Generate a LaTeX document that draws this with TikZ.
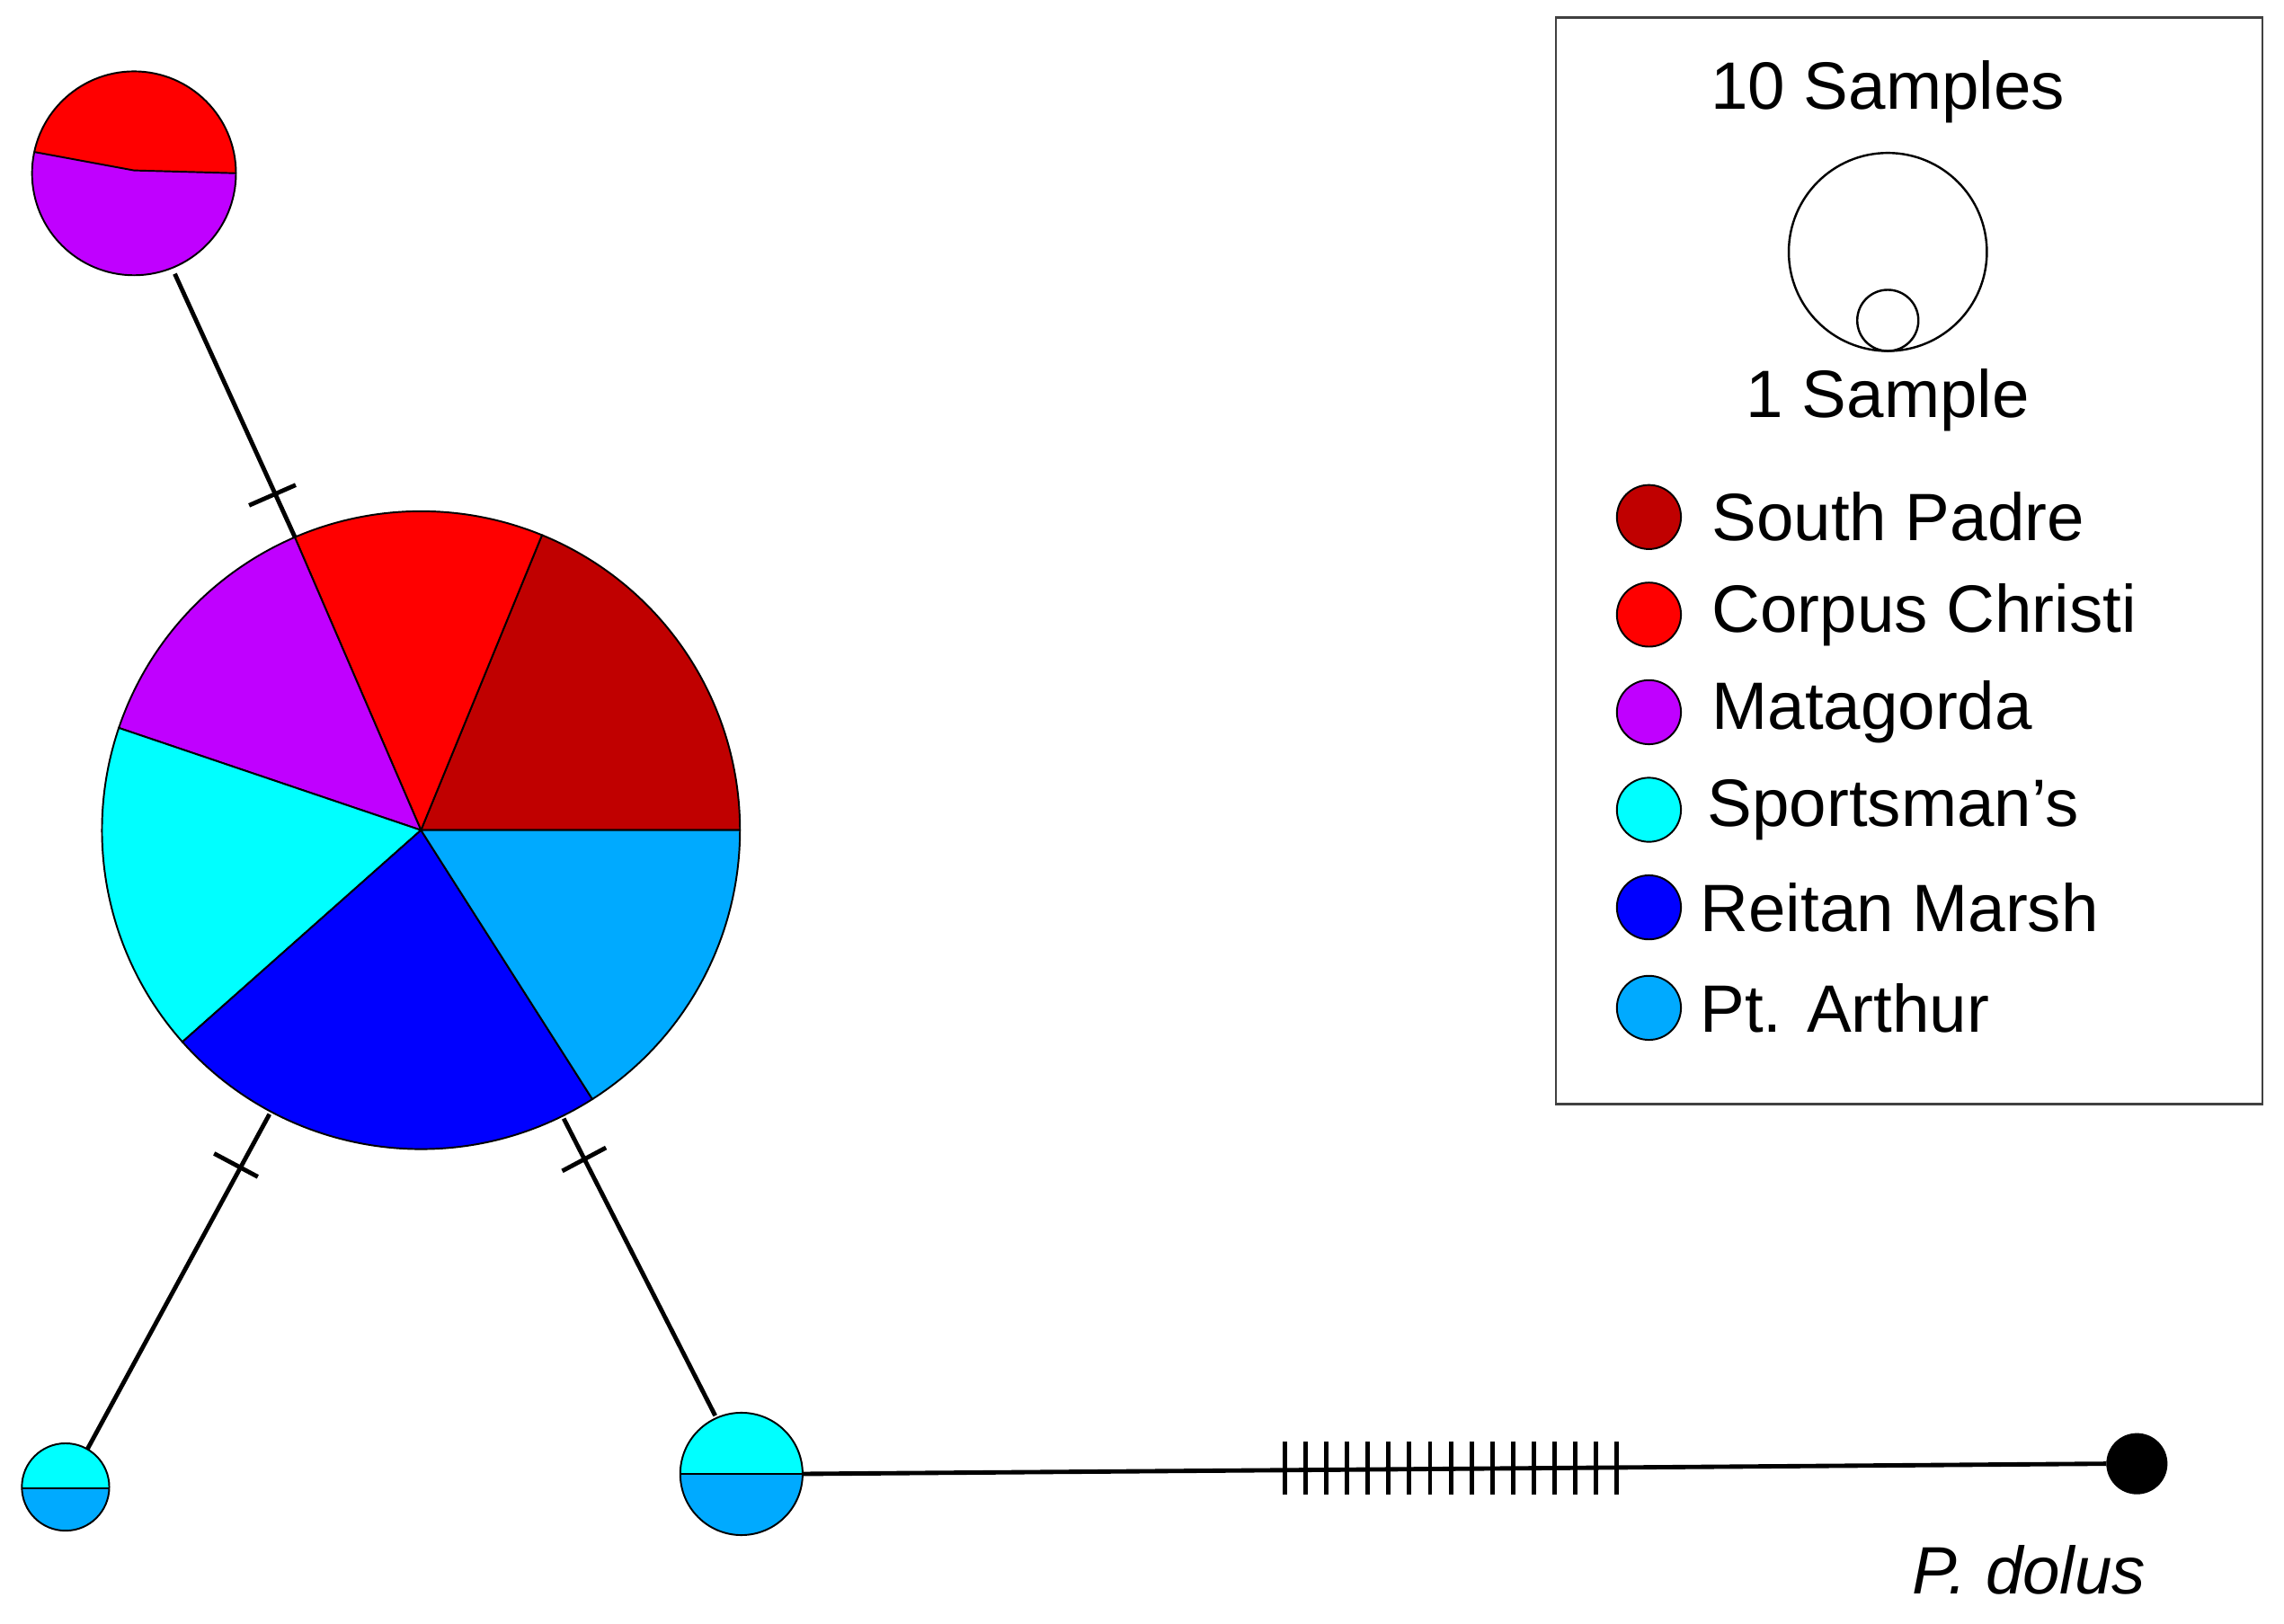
\documentclass[tikz,border=0pt]{standalone}
\usepackage{fontspec}
\setmainfont{Liberation Sans}
\usetikzlibrary{calc}
\definecolor{sp}{RGB}{192,0,0}
\definecolor{cc}{RGB}{255,0,0}
\definecolor{mg}{RGB}{192,0,255}
\definecolor{spt}{RGB}{0,255,255}
\definecolor{rm}{RGB}{0,0,255}
\definecolor{pa}{RGB}{0,170,255}
\begin{document}
\begin{tikzpicture}[x=1pt,y=-1pt,
  edge/.style={line width=3pt},
  tick/.style={line width=3pt},
  seg/.style={draw=black,line width=1.2pt},
  lab/.style={font=\fontsize{46}{50}\selectfont,inner sep=0pt},
  dot/.style={circle,draw=black,line width=1.2pt,minimum size=44pt,inner sep=0pt}]
\useasboundingbox (0,0) rectangle (1568,1115);
% edges
\coordinate (tA) at (120,188); \coordinate (tB) at (203,370);
\coordinate (lA) at (185,765); \coordinate (lB) at (60,995);
\coordinate (mA) at (387,768); \coordinate (mB) at (491,972);
\coordinate (oA) at (551,1012); \coordinate (oB) at (1446,1005);
\draw[edge] (tA) -- (tB);
\draw[edge] (lA) -- (lB);
\draw[edge] (mA) -- (mB);
\draw[edge] (oA) -- (oB);
% ticks
\draw[tick] ($(187,340)+(-16,7)$) -- ($(187,340)+(16,-7)$);
\draw[tick] ($(162,800)+(-15,-8)$) -- ($(162,800)+(15,8)$);
\draw[tick] ($(401,796)+(-15,8)$) -- ($(401,796)+(15,-8)$);
\foreach \i in {0,...,16}{\draw[line width=3pt] ({882+14.25*\i},990) -- ({882+14.25*\i},1026);}
% main pie
\begin{scope}[shift={(289,570)},y=1pt]
\def\R{219}
\fill[sp,seg] (0,0) -- (0:\R) arc (0:67.7:\R) -- cycle;
\fill[cc,seg] (0,0) -- (67.7:\R) arc (67.7:113.3:\R) -- cycle;
\fill[mg,seg] (0,0) -- (113.3:\R) arc (113.3:161.3:\R) -- cycle;
\fill[spt,seg] (0,0) -- (161.3:\R) arc (161.3:221.6:\R) -- cycle;
\fill[rm,seg] (0,0) -- (221.6:\R) arc (221.6:302.5:\R) -- cycle;
\fill[pa,seg] (0,0) -- (302.5:\R) arc (302.5:360:\R) -- cycle;
\end{scope}
\node[circle,minimum size=438pt,inner sep=0pt] (main) at (289,570) {};
% top-left node
\node[circle,minimum size=140pt,inner sep=0pt] (top) at (92,119) {};
\begin{scope}
\clip (92,119) circle (70pt);
\fill[cc] (0,0) rectangle (200,200);
\fill[mg] (0,100) -- (92,117) -- (200,120) -- (200,220) -- (0,220) -- cycle;
\draw[line width=1.2pt] (0,100) -- (92,117) -- (200,120);
\end{scope}
\draw[line width=1.2pt] (92,119) circle (70pt);
% bottom-left node
\node[circle,minimum size=60pt,inner sep=0pt] (bl) at (45,1021) {};
\begin{scope}
\clip (45,1021) circle (30pt);
\fill[spt] (0,980) rectangle (100,1022);
\fill[pa] (0,1022) rectangle (100,1060);
\draw[line width=1.2pt] (0,1022) -- (100,1022);
\end{scope}
\draw[line width=1.2pt] (45,1021) circle (30pt);
% bottom-mid node
\node[circle,minimum size=84pt,inner sep=0pt] (bm) at (509,1012) {};
\begin{scope}
\clip (509,1012) circle (42pt);
\fill[spt] (450,960) rectangle (560,1012);
\fill[pa] (450,1012) rectangle (560,1060);
\draw[line width=1.2pt] (450,1012) -- (560,1012);
\end{scope}
\draw[line width=1.2pt] (509,1012) circle (42pt);
% P. dolus
\node[circle,fill=black,minimum size=42pt,inner sep=0pt] (pd) at (1467,1005) {};
\node[lab,font=\fontsize{46}{50}\selectfont\itshape] (pdl) at (1393,1078) {P. dolus};
% legend
\draw[line width=1.5pt,draw=black!75] (1068,12) rectangle (1553,758);
\node[lab] (l10) at (1296,63) {10 Samples};
\draw[line width=1.5pt] (1296,173) circle (68pt);
\draw[line width=1.5pt] (1296,220) circle (21pt);
\node[lab] (l1) at (1296,275) {1 Sample};
\foreach \y/\c/\t/\x in {355/sp/South Padre/1175,422/cc/Corpus Christi/1175,489/mg/Matagorda/1175,556/spt/Sportsman's/1172,623/rm/Reitan Marsh/1167,692/pa/Pt. Arthur/1167}{
  \node[dot,fill=\c] at (1132,\y) {};
  \node[lab,anchor=west] at (\x,\y) {\t};
}
\end{tikzpicture}
\end{document}
